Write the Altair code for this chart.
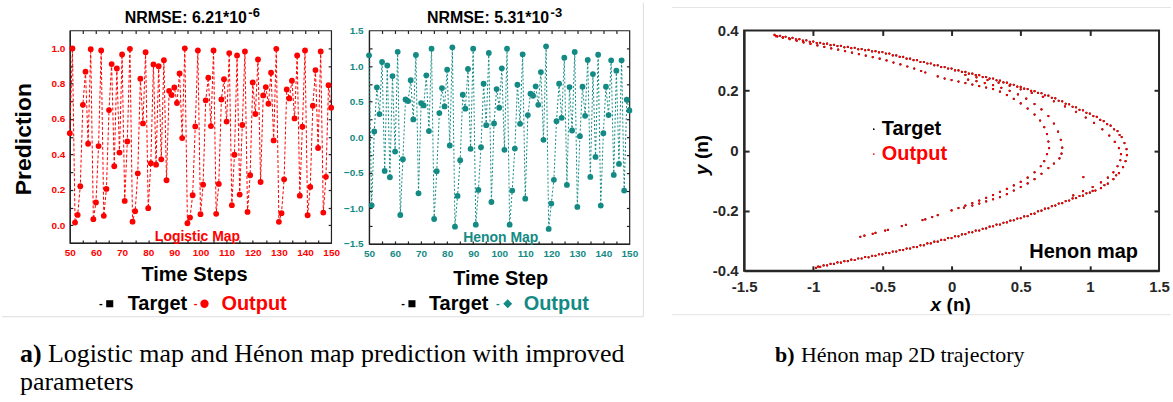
import altair as alt
import pandas as pd

W, H = 1173, 402
SANS = "Liberation Sans"
SERIF = "Liberation Serif"
RED = "#ff0000"
TEAL = "#138a84"
DARK = "#262626"
FRAME = "#222222"

# ---------------- data ----------------
time_steps = list(range(50, 151))

logistic_values = [
    0.52, 0.998, 0.015, 0.058, 0.22, 0.68, 0.867, 0.46, 0.994, 0.034,
    0.128, 0.447, 0.987, 0.053, 0.205, 0.65, 0.91, 0.333, 0.885, 0.41,
    0.964, 0.137, 0.473, 0.996, 0.02, 0.079, 0.293, 0.827, 0.575, 0.977,
    0.096, 0.35, 0.908, 0.342, 0.898, 0.372, 0.932, 0.254, 0.759, 0.735,
    0.778, 0.69, 0.857, 0.492, 0.999, 0.011, 0.043, 0.169, 0.558, 0.987,
    0.062, 0.229, 0.705, 0.833, 0.56, 0.987, 0.064, 0.233, 0.71, 0.825,
    0.585, 0.972, 0.113, 0.398, 0.959, 0.173, 0.566, 0.981, 0.075, 0.282,
    0.806, 0.628, 0.936, 0.244, 0.733, 0.78, 0.686, 0.861, 0.479, 0.996,
    0.019, 0.068, 0.259, 0.767, 0.716, 0.816, 0.603, 0.959, 0.167, 0.556,
    0.987, 0.056, 0.216, 0.675, 0.876, 0.436, 0.981, 0.071, 0.273, 0.791,
    0.664,
]

henon_values = [
    1.15, -0.958, 0.08, 0.70, 0.324, 1.056, -0.474, 1.009, -0.563, 0.859,
    -0.202, 1.20, -1.094, -0.31, 0.53, 0.507, 0.80, 0.249, 1.155, -0.789,
    0.479, 0.446, 0.869, 0.085, 1.244, -1.15, -0.479, 0.338, 0.69, 0.432,
    0.948, -0.117, 1.263, -1.258, -0.826, -0.324, 0.596, 0.40, 0.958, -0.164,
    1.244, -1.23, -0.742, -0.141, 0.751, 0.169, 1.183, -0.911, 0.192, 0.676,
    0.413, 0.967, -0.178, 1.244, -1.23, -0.751, -0.16, 0.737, 0.188, 1.164,
    -0.864, 0.31, 0.61, 0.582, 0.714, 0.455, 0.915, -0.038, 1.277, -1.29,
    -0.934, -0.60, 0.225, 0.751, 0.272, 1.117, -0.671, 0.704, 0.094, 1.197,
    -0.981, 0.014, 0.709, 0.30, 1.085, -0.559, 0.887, -0.277, 1.16, -0.962,
    0.056, 0.709, 0.31, 1.08, -0.531, 0.934, -0.376, 1.08, -0.751, 0.526,
    0.376,
]

# Henon 2D trajectory: points read along the visible strands
outer_strand = [
    (-1.28, 0.385), (-1.24, 0.382), (-1.20, 0.379), (-1.15, 0.375), (-1.10, 0.371), (-1.05, 0.367),
    (-1.00, 0.363), (-0.95, 0.359), (-0.90, 0.356), (-0.85, 0.352), (-0.80, 0.349), (-0.75, 0.345),
    (-0.70, 0.342), (-0.65, 0.338), (-0.60, 0.335), (-0.55, 0.331), (-0.50, 0.328), (-0.45, 0.323),
    (-0.40, 0.317), (-0.35, 0.312), (-0.30, 0.306), (-0.25, 0.301), (-0.20, 0.295), (-0.15, 0.290),
    (-0.10, 0.284), (-0.05, 0.278), (0.00, 0.273), (0.05, 0.267), (0.10, 0.262), (0.15, 0.256),
    (0.20, 0.251), (0.25, 0.245), (0.30, 0.240), (0.35, 0.233), (0.40, 0.226), (0.45, 0.219),
    (0.50, 0.212), (0.55, 0.205), (0.60, 0.198), (0.65, 0.191), (0.70, 0.183), (0.75, 0.174),
    (0.80, 0.164), (0.85, 0.154), (0.90, 0.144), (0.95, 0.134), (1.00, 0.123), (1.05, 0.112),
    (1.10, 0.098), (1.15, 0.083), (1.20, 0.065), (1.23, 0.045), (1.25, 0.025), (1.265, 0.005),
    (1.268, -0.015), (1.258, -0.035), (1.24, -0.055), (1.21, -0.075), (1.17, -0.095), (1.13, -0.110),
    (1.08, -0.125), (1.04, -0.133), (1.00, -0.140), (0.95, -0.150), (0.90, -0.158), (0.85, -0.166),
    (0.80, -0.175), (0.75, -0.183), (0.70, -0.192), (0.65, -0.200), (0.60, -0.210), (0.55, -0.218),
    (0.50, -0.225), (0.45, -0.232), (0.40, -0.239), (0.35, -0.246), (0.30, -0.252), (0.25, -0.259),
    (0.20, -0.266), (0.15, -0.272), (0.10, -0.278), (0.05, -0.285), (0.00, -0.291), (-0.05, -0.297),
    (-0.10, -0.303), (-0.15, -0.309), (-0.20, -0.315), (-0.25, -0.321), (-0.30, -0.326), (-0.35, -0.331),
    (-0.40, -0.336), (-0.45, -0.341), (-0.50, -0.345), (-0.55, -0.350), (-0.60, -0.355), (-0.65, -0.359),
    (-0.70, -0.364), (-0.75, -0.368), (-0.80, -0.373), (-0.85, -0.377), (-0.90, -0.382), (-0.95, -0.387),
    (-0.98, -0.390),
]

outer_strand_dense = [
    (-1.26, 0.380), (-1.22, 0.377), (-1.175, 0.374), (-1.125, 0.370), (-1.075, 0.366), (-1.025, 0.362),
    (-0.975, 0.358), (-0.925, 0.355), (-0.875, 0.351), (-0.825, 0.348), (-0.775, 0.344), (-0.725, 0.341),
    (-0.675, 0.337), (-0.625, 0.334), (-0.575, 0.330), (-0.525, 0.327), (-0.475, 0.323), (-0.425, 0.317),
    (-0.375, 0.312), (-0.325, 0.306), (-0.275, 0.301), (-0.225, 0.295), (-0.175, 0.290), (-0.125, 0.284),
    (-0.075, 0.278), (-0.025, 0.273), (0.025, 0.267), (0.075, 0.262), (0.125, 0.256), (0.175, 0.251),
    (0.225, 0.245), (0.275, 0.240), (0.325, 0.234), (0.375, 0.227), (0.425, 0.220), (0.475, 0.213),
    (0.525, 0.206), (0.575, 0.199), (0.625, 0.192), (0.675, 0.184), (0.725, 0.176), (0.775, 0.166),
    (0.825, 0.156), (0.875, 0.146), (0.925, 0.136), (0.975, 0.126), (1.025, 0.115), (1.075, 0.102),
    (1.125, 0.088), (1.175, 0.071), (1.215, 0.052), (1.19, -0.082), (1.105, -0.115), (1.02, -0.134),
    (0.975, -0.142), (0.925, -0.151), (0.875, -0.159), (0.825, -0.168), (0.775, -0.176), (0.725, -0.185),
    (0.675, -0.193), (0.625, -0.202), (0.575, -0.211), (0.525, -0.219), (0.475, -0.226), (0.425, -0.233),
    (0.375, -0.240), (0.325, -0.246), (0.275, -0.253), (0.225, -0.260), (0.175, -0.266), (0.125, -0.272),
    (0.075, -0.279), (0.025, -0.285), (-0.025, -0.291), (-0.075, -0.297), (-0.125, -0.303), (-0.175, -0.309),
    (-0.225, -0.315), (-0.275, -0.321), (-0.325, -0.326), (-0.375, -0.331), (-0.425, -0.336), (-0.475, -0.340),
    (-0.525, -0.345), (-0.575, -0.350), (-0.625, -0.354), (-0.675, -0.359), (-0.725, -0.363), (-0.775, -0.368),
    (-0.825, -0.372), (-0.875, -0.377), (-0.925, -0.382), (-0.965, -0.386),
]

outer_band_strand = [
    (0.10, 0.252), (0.18, 0.244), (0.26, 0.235), (0.34, 0.226), (0.42, 0.216), (0.50, 0.204),
    (0.58, 0.192), (0.66, 0.179), (0.74, 0.164), (0.82, 0.147), (0.90, 0.129), (0.97, 0.110),
    (1.03, 0.092), (1.09, 0.071), (1.14, 0.050), (1.18, 0.029), (1.21, 0.008), (1.225, -0.012),
    (1.22, -0.032), (1.20, -0.052), (1.17, -0.072), (1.13, -0.090), (1.08, -0.106), (1.02, -0.121),
    (0.95, -0.135), (0.88, -0.149),
]

middle_strand = [
    (0.12, 0.236), (0.18, 0.231), (0.24, 0.225), (0.30, 0.218), (0.36, 0.209), (0.42, 0.199),
    (0.48, 0.187), (0.54, 0.173), (0.60, 0.155), (0.65, 0.137), (0.70, 0.115), (0.74, 0.090),
    (0.77, 0.063), (0.79, 0.036), (0.80, 0.010), (0.795, -0.010), (0.78, -0.026), (0.74, -0.043),
    (0.70, -0.058), (0.65, -0.077), (0.60, -0.095), (0.55, -0.109), (0.50, -0.121), (0.45, -0.133),
    (0.40, -0.145), (0.35, -0.155), (0.30, -0.162), (0.25, -0.169), (0.20, -0.176), (0.15, -0.183),
    (0.09, -0.190),
]

inner_strand = [
    (-1.27, 0.381), (-1.22, 0.376), (-1.17, 0.371), (-1.12, 0.366), (-1.07, 0.360), (-1.02, 0.355),
    (-0.97, 0.350), (-0.92, 0.345), (-0.87, 0.340), (-0.82, 0.336), (-0.77, 0.331), (-0.72, 0.326),
    (-0.67, 0.321), (-0.62, 0.316), (-0.57, 0.311), (-0.52, 0.306), (-0.47, 0.300), (-0.42, 0.293),
    (-0.37, 0.287), (-0.32, 0.280), (-0.27, 0.273), (-0.22, 0.265), (-0.19, 0.260), (-0.10, 0.247),
    (-0.05, 0.240), (0.00, 0.235), (0.05, 0.230), (0.10, 0.225), (0.15, 0.220), (0.20, 0.215),
    (0.25, 0.210), (0.30, 0.205), (0.35, 0.196), (0.40, 0.185), (0.45, 0.172), (0.50, 0.157),
    (0.55, 0.140), (0.60, 0.120), (0.64, 0.100), (0.67, 0.078), (0.69, 0.055), (0.70, 0.030),
    (0.705, 0.008), (0.69, -0.012), (0.67, -0.035), (0.645, -0.052), (0.60, -0.072), (0.55, -0.090),
    (0.50, -0.104), (0.45, -0.116), (0.40, -0.127), (0.35, -0.137), (0.30, -0.148), (0.25, -0.157),
    (0.20, -0.166), (0.15, -0.175), (0.10, -0.183), (0.05, -0.191), (0.00, -0.199), (-0.10, -0.215),
    (-0.14, -0.221), (-0.19, -0.229), (-0.21, -0.231), (-0.33, -0.247), (-0.36, -0.251), (-0.46, -0.264),
    (-0.48, -0.266), (-0.55, -0.274), (-0.57, -0.277), (-0.63, -0.283), (-0.66, -0.287),
]

stray_points = [(0.953, -0.088)]

# tick values of the axes
step_ticks = list(range(55, 150, 5))
step_labels = list(range(50, 151, 10))
log_ticks = [0.0, 0.1, 0.2, 0.3, 0.4, 0.5, 0.6, 0.7, 0.8, 0.9, 1.0]
log_labels = [0.0, 0.2, 0.4, 0.6, 0.8, 1.0]
hen_ticks = [-1.25, -1.0, -0.75, -0.5, -0.25, 0.0, 0.25, 0.5, 0.75, 1.0, 1.25]
hen_labels = [-1.5, -1.0, -0.5, 0.0, 0.5, 1.0, 1.5]
traj_x_ticks = [-1.5, -1, -0.5, 0, 0.5, 1, 1.5]
traj_y_ticks = [-0.4, -0.2, 0, 0.2, 0.4]

# ---------------- tables ----------------
log_df = pd.DataFrame({"t": time_steps, "v": logistic_values})
hen_df = pd.DataFrame({"t": time_steps, "v": henon_values})
traj = outer_strand + outer_strand_dense + outer_band_strand + middle_strand + inner_strand + stray_points
traj_df = pd.DataFrame({"x": [p[0] for p in traj], "y": [p[1] for p in traj]})
one_row = pd.DataFrame({"k": [0]})

# panel geometry (plot areas, in page pixels)
P1 = dict(x=68, y=28, w=262, h=213)
P2 = dict(x=368, y=28, w=261, h=214)
P3 = dict(x=744, y=28, w=416, h=241)
GAP = 38


def sc(domain):
    return alt.Scale(domain=domain, nice=False, zero=False)


def text(p, txt, x, y, size, color="black", weight="bold", align="left", baseline="alphabetic",
         angle=0, font=SANS, style="normal"):
    """Text placed at page pixel (x, y), converted to the panel's own frame."""
    return alt.Chart(pd.DataFrame({"s": [txt]})).mark_text(
        align=align, baseline=baseline, fontSize=size, fontWeight=weight, color=color,
        font=font, angle=angle, fontStyle=style,
    ).encode(x=alt.value(x - p["x"]), y=alt.value(y - p["y"]), text="s:N")


def symbol(p, shape, x, y, size, color):
    return alt.Chart(pd.DataFrame({"s": [shape]})).mark_point(
        shape=shape, filled=True, size=size, color=color, opacity=1
    ).encode(x=alt.value(x - p["x"]), y=alt.value(y - p["y"]))


def hline(p, x0, x1, y, color):
    return alt.Chart(one_row).mark_rule(color=color, strokeWidth=1).encode(
        x=alt.value(x0 - p["x"]), x2=alt.value(x1 - p["x"]), y=alt.value(y - p["y"]))


def vline(p, x, y0, y1, color):
    return alt.Chart(one_row).mark_rule(color=color, strokeWidth=1).encode(
        x=alt.value(x - p["x"]), y=alt.value(y0 - p["y"]), y2=alt.value(y1 - p["y"]))


def label_axes(xvals, yvals, size, pad_x, pad_y, lcolor, dcolor, dwidth, fmt_x=None, fmt_y=None):
    xa = dict(orient="bottom", values=xvals, ticks=False, domain=True, domainColor=dcolor,
              domainWidth=dwidth, grid=False, title=None, labelColor=lcolor, labelFont=SANS,
              labelFontSize=size, labelFontWeight="bold", labelFlush=False, labelOverlap=False,
              labelPadding=pad_x)
    ya = dict(orient="left", values=yvals, ticks=False, domain=True, domainColor=dcolor,
              domainWidth=dwidth, grid=False, title=None, labelColor=lcolor, labelFont=SANS,
              labelFontSize=size, labelFontWeight="bold", labelOverlap=False, labelPadding=pad_y)
    if fmt_x:
        xa["labelExpr"] = fmt_x
    if fmt_y:
        ya["labelExpr"] = fmt_y
    return alt.Axis(**xa), alt.Axis(**ya)


def tick_layers(df, xf, yf, xs, ys, p, xticks, yticks, tlen, color, twidth):
    """Invisible layers whose axes draw inward ticks on all four sides of the panel."""
    common = dict(labels=False, grid=False, title=None, domain=False, tickColor=color,
                  tickWidth=twidth, tickSize=tlen)
    b = alt.Chart(df).mark_point(opacity=0).encode(
        x=alt.X(xf, scale=xs, axis=alt.Axis(orient="top", offset=-p["h"], values=xticks, **common)),
        y=alt.Y(yf, scale=ys, axis=alt.Axis(orient="right", offset=-p["w"], values=yticks, **common)))
    c = alt.Chart(df).mark_point(opacity=0).encode(
        x=alt.X(xf, scale=xs, axis=alt.Axis(orient="bottom", offset=-p["h"], values=xticks, **common)),
        y=alt.Y(yf, scale=ys, axis=alt.Axis(orient="left", offset=-p["w"], values=yticks, **common)))
    return [b, c]


def build(use_view):
    # ---------- panel 1: logistic map ----------
    LX, LY = sc([50, 150]), sc([-0.1, 1.1])
    lx_ax, ly_ax = label_axes(step_labels, log_labels, 10, 5, 5, RED, FRAME, 1.2,
                              fmt_y="format(datum.value, '.1f')")
    l1 = [
        # invisible page-sized rectangle: fixes the page origin and size
        alt.Chart(one_row).mark_rect(opacity=0).encode(
            x=alt.value(-P1["x"]), x2=alt.value(W - P1["x"]), y=alt.value(-P1["y"]), y2=alt.value(H - P1["y"])),
        alt.Chart(log_df).mark_line(color=RED, strokeWidth=1, strokeDash=[3, 2]).encode(
            x=alt.X("t:Q", scale=LX, axis=None), y=alt.Y("v:Q", scale=LY, axis=None)),
        alt.Chart(log_df).mark_point(shape="square", filled=True, size=14, color="black", opacity=1).encode(
            x=alt.X("t:Q", scale=LX, axis=None), y=alt.Y("v:Q", scale=LY, axis=None)),
        alt.Chart(log_df).mark_circle(size=34, color=RED, opacity=1).encode(
            x=alt.X("t:Q", scale=LX, axis=lx_ax), y=alt.Y("v:Q", scale=LY, axis=ly_ax)),
    ]
    l1 += tick_layers(log_df, "t:Q", "v:Q", LX, LY, P1, step_ticks, log_ticks, 3, FRAME, 1.2)
    l1 += [
        text(P1, "NRMSE: 6.21*10", 123, 21, 16),
        text(P1, "-6", 247, 15, 13),
        text(P1, "Prediction", 22, 137, 23, align="center", baseline="middle", angle=270),
        text(P1, "Time Steps", 193, 279, 20, align="center"),
        text(P1, "Logistic Map", 196, 239, 14, color=RED, align="center"),
        text(P1, "-", 99, 302, 11, baseline="middle", align="center"),
        symbol(P1, "square", 108, 302, 50, "black"),
        text(P1, "Target", 126, 302, 20, baseline="middle"),
        text(P1, "-", 194, 302, 11, color=RED, baseline="middle", align="center"),
        symbol(P1, "circle", 203, 302, 70, RED),
        text(P1, "Output", 220, 302, 20, color=RED, baseline="middle"),
        text(P1, "a)", 18, 360, 26, font=SERIF),
        text(P1, "Logistic map and Hénon map prediction with improved", 46, 360, 26, weight="normal", font=SERIF),
        text(P1, "parameters", 18, 388, 26, weight="normal", font=SERIF),
        hline(P1, 0, 643, 315, "#dddddd"),
        vline(P1, 643, 0, 315, "#dddddd"),
    ]
    p1 = alt.layer(*l1).resolve_axis(x="independent", y="independent")

    # ---------- panel 2: Henon time series ----------
    MX, MY = sc([50, 150]), sc([-1.5, 1.5])
    mx_ax, my_ax = label_axes(step_labels, hen_labels, 10, 5, 6, TEAL, FRAME, 1.2,
                              fmt_y="format(datum.value, '.1f')")
    l2 = [
        alt.Chart(hen_df).mark_line(color=TEAL, strokeWidth=1, strokeDash=[2, 2]).encode(
            x=alt.X("t:Q", scale=MX, axis=None), y=alt.Y("v:Q", scale=MY, axis=None)),
        alt.Chart(hen_df).mark_point(shape="square", filled=True, size=14, color="black", opacity=1).encode(
            x=alt.X("t:Q", scale=MX, axis=None), y=alt.Y("v:Q", scale=MY, axis=None)),
        alt.Chart(hen_df).mark_circle(size=34, color=TEAL, opacity=1).encode(
            x=alt.X("t:Q", scale=MX, axis=mx_ax), y=alt.Y("v:Q", scale=MY, axis=my_ax)),
    ]
    l2 += tick_layers(hen_df, "t:Q", "v:Q", MX, MY, P2, step_ticks, hen_ticks, 3, FRAME, 1.2)
    l2 += [
        text(P2, "NRMSE: 5.31*10", 426, 21, 16),
        text(P2, "-3", 550, 15, 13),
        text(P2, "Time Step", 500, 283, 20, align="center"),
        text(P2, "Henon Map", 500, 240, 14, color=TEAL, align="center"),
        text(P2, "-", 402, 302, 11, baseline="middle", align="center"),
        symbol(P2, "square", 411, 302, 50, "black"),
        text(P2, "Target", 428, 302, 20, baseline="middle"),
        text(P2, "-", 497, 302, 11, color=TEAL, baseline="middle", align="center"),
        symbol(P2, "diamond", 507, 302, 80, TEAL),
        text(P2, "Output", 523, 302, 20, color=TEAL, baseline="middle"),
    ]
    p2 = alt.layer(*l2).resolve_axis(x="independent", y="independent")

    # ---------- panel 3: Henon 2D trajectory ----------
    RX, RY = sc([-1.5, 1.5]), sc([-0.4, 0.4])
    rx_ax, ry_ax = label_axes(traj_x_ticks, traj_y_ticks, 15, 9, 6, DARK, DARK, 2,
                              fmt_x="'' + datum.value", fmt_y="'' + datum.value")
    l3 = [
        alt.Chart(traj_df).mark_circle(size=5, color="black", opacity=1).encode(
            x=alt.X("x:Q", scale=RX, axis=None), y=alt.Y("y:Q", scale=RY, axis=None)),
        alt.Chart(traj_df).mark_circle(size=5, color=RED, opacity=1).encode(
            x=alt.X("x:Q", scale=RX, axis=rx_ax), y=alt.Y("y:Q", scale=RY, axis=ry_ax)),
    ]
    l3 += tick_layers(traj_df, "x:Q", "y:Q", RX, RY, P3, traj_x_ticks[1:-1], traj_y_ticks[1:-1], 5, DARK, 2)
    l3 += [
        text(P3, "y", 702, 173, 19, align="left", baseline="middle", angle=270, style="italic"),
        text(P3, "(n)", 702, 157, 19, align="left", baseline="middle", angle=270),
        text(P3, "x", 931, 309, 19, style="italic"),
        text(P3, "(n)", 947, 309, 19),
        symbol(P3, "circle", 874, 127, 3, "black"),
        text(P3, "Target", 882, 127, 20, baseline="middle"),
        symbol(P3, "circle", 874, 152, 3, RED),
        text(P3, "Output", 882, 152, 20, color=RED, baseline="middle"),
        text(P3, "Henon map", 1030, 250, 20, baseline="middle"),
        text(P3, "b)", 775, 360, 22, font=SERIF),
        text(P3, "Hénon map 2D trajectory", 801, 360, 22, weight="normal", font=SERIF),
        hline(P3, 672, W - 1, 5, "#e4e4e4"),
        hline(P3, 672, W - 1, 313, "#e4e4e4"),
    ]
    p3 = alt.layer(*l3).resolve_axis(x="independent", y="independent")

    spacer_w = P3["x"] - P2["x"] - P2["w"] - 2 * GAP
    spacer = alt.Chart(one_row).mark_point(opacity=0).encode(x=alt.value(0), y=alt.value(0))

    if use_view:
        p1 = p1.properties(width=P1["w"], height=P1["h"], view=alt.ViewBackground(stroke=FRAME, strokeWidth=1.2))
        p2 = p2.properties(width=P2["w"], height=P2["h"], view=alt.ViewBackground(stroke=FRAME, strokeWidth=1.2))
        p3 = p3.properties(width=P3["w"], height=P3["h"], view=alt.ViewBackground(stroke=DARK, strokeWidth=2))
        spacer = spacer.properties(width=spacer_w, height=P3["h"], view=alt.ViewBackground(stroke="transparent"))
        ch = alt.hconcat(p1, p2, spacer, p3, spacing=GAP, bounds="flush").properties(
            padding=0, background="white")
    else:
        p1 = p1.properties(width=P1["w"], height=P1["h"])
        p2 = p2.properties(width=P2["w"], height=P2["h"])
        p3 = p3.properties(width=P3["w"], height=P3["h"])
        spacer = spacer.properties(width=spacer_w, height=P3["h"])
        ch = alt.hconcat(p1, p2, spacer, p3, spacing=GAP, bounds="flush").properties(
            padding=0, background="white").configure_view(stroke=FRAME, strokeWidth=1.2)
    return ch


try:
    chart = build(True)
    chart.to_dict()
except Exception:
    chart = build(False)

chart.save("out.html", embed_options={"renderer": "svg", "actions": False})
